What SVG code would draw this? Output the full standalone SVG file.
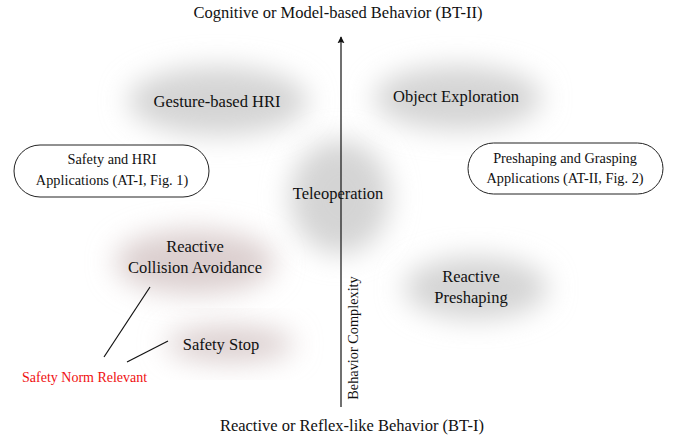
<svg xmlns="http://www.w3.org/2000/svg" width="677" height="439" viewBox="0 0 677 439">
<style>
text{font-family:"Liberation Serif","Times New Roman",serif;fill:#111}
.lbl{font-size:16.5px;text-anchor:middle}
.cap{font-size:14.3px;text-anchor:middle}
.box{fill:#fff;stroke:#222;stroke-width:1}
.gray{fill:#d4d4d4;filter:url(#blur)}
.red{fill:#dbcfcf;filter:url(#blur)}
.ln{stroke:#111;stroke-width:1.2;fill:none}
</style>
<defs>
<filter id="blur" x="-50%" y="-50%" width="200%" height="200%"><feGaussianBlur stdDeviation="14"/></filter>
<marker id="ah" viewBox="0 0 10 10" refX="9" refY="5" markerWidth="7" markerHeight="9" orient="auto" markerUnits="userSpaceOnUse"><path d="M0,0 L10,5 L0,10 L2,5 z" fill="#111"/></marker>
</defs>
<rect width="677" height="439" fill="#fff"/>
<text class="lbl" x="338" y="18">Cognitive or Model-based Behavior (BT-II)</text>
<text class="lbl" x="352" y="431">Reactive or Reflex-like Behavior (BT-I)</text>
<g id="gesture"><ellipse class="gray" cx="218" cy="101" rx="90" ry="34"/><text class="lbl" x="217" y="107">Gesture-based HRI</text></g>
<g id="object"><ellipse class="gray" cx="458" cy="98" rx="84" ry="32"/><text class="lbl" x="456" y="102">Object Exploration</text></g>
<g id="teleop"><ellipse class="gray" cx="340" cy="197" rx="50" ry="57"/></g>
<g id="rca"><ellipse class="red" cx="195" cy="262" rx="80" ry="32"/></g>
<g id="rp"><ellipse class="gray" cx="476" cy="288" rx="72" ry="31"/><text class="lbl" x="471" y="282">Reactive</text><text class="lbl" x="471" y="303">Preshaping</text></g>
<g id="stop"><ellipse class="red" cx="230" cy="344" rx="64" ry="18"/><text class="lbl" x="221" y="350">Safety Stop</text></g>
<g id="cap1"><rect class="box" x="14" y="145" width="195" height="52" rx="26"/><text class="cap" x="112" y="164">Safety and HRI</text><text class="cap" x="112" y="185">Applications (AT-I, Fig. 1)</text></g>
<g id="cap2"><rect class="box" x="468" y="143" width="195" height="51" rx="25.5"/><text class="cap" x="565" y="163">Preshaping and Grasping</text><text class="cap" x="565" y="183">Applications (AT-II, Fig. 2)</text></g>
<g id="connectors">
<line class="ln" x1="341" y1="407" x2="341" y2="37" marker-end="url(#ah)"/>
<line class="ln" x1="150" y1="287" x2="104" y2="357"/>
<line class="ln" x1="168" y1="341" x2="127" y2="362"/>
</g>
<g id="teleop-label"><text class="lbl" x="338" y="199">Teleoperation</text></g>
<g id="rca-label"><text class="lbl" x="195" y="252">Reactive</text><text class="lbl" x="195" y="273">Collision Avoidance</text></g>
<text x="354" y="338" font-size="14.3" text-anchor="middle" transform="rotate(-90 354 338)" dy="4">Behavior Complexity</text>
<text x="22" y="382" font-size="14" style="fill:#f01010">Safety Norm Relevant</text>
</svg>
